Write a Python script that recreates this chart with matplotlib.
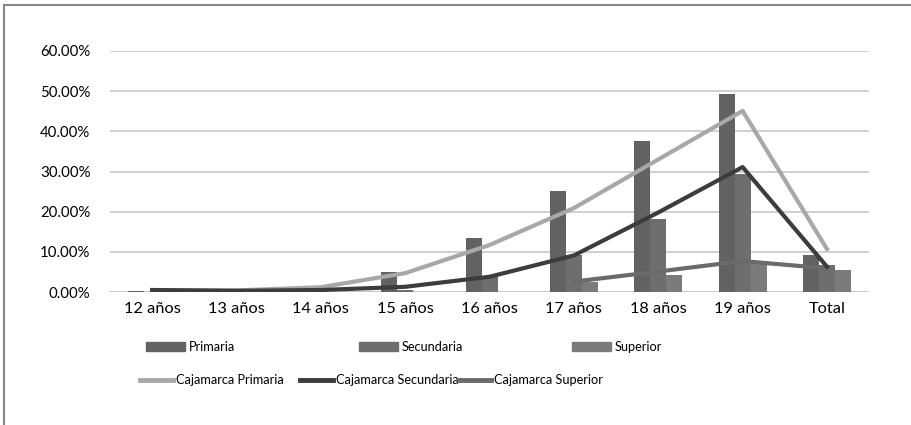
import numpy as np
import matplotlib.pyplot as plt
from matplotlib.lines import Line2D
from matplotlib.patches import Patch

plt.rcParams['font.family'] = ['Lato', 'DejaVu Sans']

# Data (fractions)
categories = ['12 años', '13 años', '14 años', '15 años', '16 años',
              '17 años', '18 años', '19 años', 'Total']
primaria = [0.003, 0.001, 0.001, 0.050, 0.135, 0.252, 0.375, 0.492, 0.092]
secundaria = [0.000, 0.000, 0.000, 0.005, 0.038, 0.092, 0.183, 0.294, 0.067]
superior = [0.000, 0.000, 0.000, 0.000, 0.000, 0.024, 0.043, 0.072, 0.055]
caj_primaria = [0.004, 0.004, 0.012, 0.047, 0.117, 0.209, 0.330, 0.451, 0.107]
caj_secundaria = [0.005, 0.003, 0.005, 0.013, 0.038, 0.091, 0.198, 0.311, 0.063]
caj_superior = [np.nan, np.nan, np.nan, np.nan, np.nan, 0.026, 0.051, 0.077, 0.059]

fig = plt.figure(figsize=(9.12, 4.25), dpi=100)
ax = fig.add_axes([0.1206, 0.3129, 0.8324, 0.5671])

x = np.arange(len(categories))
w = 0.19
ax.bar(x - w, primaria, w, color='#626262', zorder=2)
ax.bar(x, secundaria, w, color='#6e6e6e', zorder=2)
ax.bar(x + w, superior, w, color='#7b7b7b', zorder=2)

ax.plot(x, caj_primaria, color='#a8a8a8', lw=3, zorder=3)
ax.plot(x, caj_secundaria, color='#3c3c3c', lw=3, zorder=4)
ax.plot(x, caj_superior, color='#6a6a6a', lw=3, zorder=3)

ax.set_xlim(-0.5, len(categories) - 0.5)
ax.set_ylim(0, 0.6)
ax.set_yticks(np.arange(0, 0.61, 0.1))
ax.set_yticklabels([f'{v * 100:.2f}%' for v in np.arange(0, 0.61, 0.1)])
ax.set_xticks(x)
ax.set_xticklabels(categories)
ax.tick_params(length=0, colors='#000000')
ax.tick_params(axis='x', labelsize=11.8, pad=7)
ax.tick_params(axis='y', labelsize=10.8, pad=14)
ax.grid(axis='y', color='#c8c8c8', lw=1.2, zorder=0)
for s in ax.spines.values():
    s.set_visible(False)
ax.axhline(0, color='#c8c8c8', lw=1.2, zorder=1)

# legend, placed entry by entry like the original
handles = [
    (Patch(color='#626262'), 'Primaria', 146, 347),
    (Patch(color='#6e6e6e'), 'Secundaria', 359, 347),
    (Patch(color='#7b7b7b'), 'Superior', 572, 347),
    (Line2D([], [], color='#a8a8a8', lw=3.5), 'Cajamarca Primaria', 140, 380),
    (Line2D([], [], color='#3c3c3c', lw=3.5), 'Cajamarca Secundaria', 300, 380),
    (Line2D([], [], color='#6a6a6a', lw=3.5), 'Cajamarca Superior', 458, 380),
]
for h, lab, px, py in handles:
    fig.legend([h], [lab], loc='center left',
               bbox_to_anchor=(px / 912, 1 - py / 425),
               frameon=False, fontsize=9.2, borderpad=0, borderaxespad=0,
               handlelength=3.05 if isinstance(h, Patch) else 2.55,
               handleheight=0.65, handletextpad=0.3)

# outer chart border (top and left visible)
fig.add_artist(Line2D([4 / 912, 1], [1 - 5 / 425, 1 - 5 / 425],
                      transform=fig.transFigure, color='#888888', lw=1.5))
fig.add_artist(Line2D([4 / 912, 4 / 912], [0, 1 - 5 / 425],
                      transform=fig.transFigure, color='#888888', lw=1.5))

fig.savefig('out.png', dpi=100, facecolor='white')
